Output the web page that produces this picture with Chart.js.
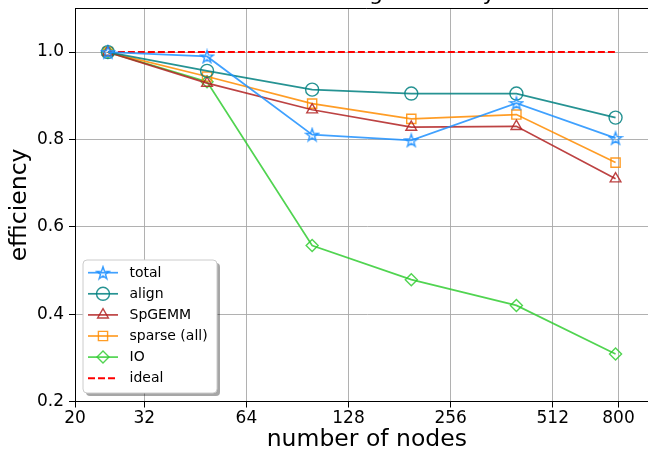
<!DOCTYPE html>
<html>
<head>
<meta charset="utf-8">
<script src="https://cdn.jsdelivr.net/npm/chart.js@4/dist/chart.umd.min.js"></script>
<style>
  html, body { margin: 0; padding: 0; overflow: hidden; background: #fff; }
  #wrap { width: 648px; height: 455px; overflow: hidden; position: relative; }
  canvas { display: block; position: absolute; left: 0; top: 0; }
</style>
</head>
<body>
<div id="wrap">
<canvas id="chart" width="760" height="455" style="width:760px;height:455px"></canvas>
</div>
<script>
// data
const nodes = [25, 49, 100, 196, 400, 784];
const total = [1.0, 0.990, 0.811, 0.798, 0.883, 0.803];
const align = [1.0, 0.957, 0.914, 0.905, 0.905, 0.850];
const spgemm = [1.0, 0.929, 0.868, 0.828, 0.830, 0.710];
const sparse = [1.0, 0.944, 0.882, 0.847, 0.857, 0.747];
const io = [1.0, 0.932, 0.557, 0.479, 0.420, 0.309];
const ideal = [1.0, 1.0, 1.0, 1.0, 1.0, 1.0];

const xTicks = [20, 32, 64, 128, 256, 512, 800];
const yTicks = [0.2, 0.4, 0.6, 0.8, 1.0];

const FONT = "'DejaVu Sans', sans-serif";
Chart.defaults.font.family = FONT;
Chart.defaults.color = "#000";

// hollow 5-point star like matplotlib's '*'
function starMarker(color) {
    const c = document.createElement("canvas");
    c.width = 16; c.height = 16;
    const g = c.getContext("2d");
    g.strokeStyle = color;
    g.lineWidth = 1.4;
    g.beginPath();
    for (let i = 0; i < 10; i++) {
        const r = i % 2 ? 2.6 : 6.6;
        const a = -Math.PI / 2 + i * Math.PI / 5;
        g.lineTo(8 + r * Math.cos(a), 8.6 + r * Math.sin(a));
    }
    g.closePath();
    g.stroke();
    return c;
}

const pts = ys => nodes.map((x, i) => ({ x: x, y: ys[i] }));

function series(label, ys, color, style, radius) {
    return {
        label: label,
        data: pts(ys),
        borderColor: color,
        backgroundColor: "rgba(0,0,0,0)",
        borderWidth: 1.7,
        pointStyle: style,
        pointRadius: radius,
        pointBorderColor: color,
        pointBackgroundColor: "rgba(0,0,0,0)",
        pointBorderWidth: 1.4,
        tension: 0
    };
}

const datasets = [
    series("total", total, "rgba(30,144,255,0.85)", starMarker("rgba(30,144,255,0.9)"), 7),
    series("align", align, "rgba(0,128,128,0.85)", "circle", 6.5),
    series("SpGEMM", spgemm, "rgba(178,34,34,0.85)", "triangle", 6.2),
    series("sparse (all)", sparse, "rgba(255,140,0,0.85)", "rect", 6.5),
    series("IO", io, "rgba(50,205,50,0.85)", "rectRot", 6),
    {
        label: "ideal",
        data: pts(ideal),
        borderColor: "#ff0000",
        borderWidth: 2,
        borderDash: [7, 3],
        pointRadius: 0,
        fill: false
    }
];

// frame top edge + cropped title
const framePlugin = {
    id: "frame",
    afterDraw(chart) {
        const { ctx, chartArea } = chart;
        ctx.save();
        ctx.strokeStyle = "#000";
        ctx.lineWidth = 1;
        ctx.beginPath();
        ctx.moveTo(chartArea.left, Math.round(chartArea.top) + 0.5);
        ctx.lineTo(chartArea.right, Math.round(chartArea.top) + 0.5);
        ctx.stroke();
        ctx.fillStyle = "#000";
        ctx.font = "22px " + FONT;
        ctx.textAlign = "center";
        ctx.textBaseline = "alphabetic";
        ctx.fillText("Weak scaling efficiency", 367, -0.5);
        ctx.restore();
    }
};

// matplotlib-style legend box with line + marker samples
const legendPlugin = {
    id: "mplLegend",
    afterDatasetsDraw(chart) {
        const ctx = chart.ctx;
        const x0 = 83, y0 = 260, w = 134, h = 133;
        ctx.save();
        ctx.fillStyle = "rgba(0,0,0,0.35)";
        roundRect(ctx, x0 + 3, y0 + 3, w, h, 4);
        ctx.fill();
        ctx.fillStyle = "#fff";
        ctx.strokeStyle = "#cccccc";
        ctx.lineWidth = 1;
        roundRect(ctx, x0, y0, w, h, 4);
        ctx.fill();
        ctx.stroke();

        chart.data.datasets.forEach((ds, i) => {
            const y = 272.7 + i * 21.1;
            ctx.save();
            ctx.strokeStyle = ds.borderColor;
            ctx.lineWidth = ds.borderWidth;
            ctx.setLineDash(ds.borderDash || []);
            ctx.beginPath();
            ctx.moveTo(88, y);
            ctx.lineTo(118, y);
            ctx.stroke();
            ctx.restore();
            if (ds.pointRadius > 0) {
                ctx.save();
                ctx.strokeStyle = ds.pointBorderColor;
                ctx.fillStyle = "rgba(0,0,0,0)";
                ctx.lineWidth = ds.pointBorderWidth;
                Chart.helpers.drawPoint(ctx, {
                    pointStyle: ds.pointStyle,
                    radius: ds.pointRadius,
                    rotation: 0,
                    borderWidth: ds.pointBorderWidth
                }, 103, y);
                ctx.restore();
            }
            ctx.fillStyle = "#000";
            ctx.font = "14px " + FONT;
            ctx.textAlign = "left";
            ctx.textBaseline = "middle";
            ctx.fillText(ds.label, 129.5, y + 0.5);
        });
        ctx.restore();
    }
};

function roundRect(ctx, x, y, w, h, r) {
    ctx.beginPath();
    ctx.moveTo(x + r, y);
    ctx.arcTo(x + w, y, x + w, y + h, r);
    ctx.arcTo(x + w, y + h, x, y + h, r);
    ctx.arcTo(x, y + h, x, y, r);
    ctx.arcTo(x, y, x + w, y, r);
    ctx.closePath();
}

const gridStyle = () => ({
    color: "#a8a8a8",
    lineWidth: 0.9,
    borderDash: [1.2, 1.8],
    drawTicks: true,
    tickLength: 6,
    tickColor: "#000",
    tickWidth: 1,
    tickBorderDash: []
});

new Chart(document.getElementById("chart"), {
    type: "line",
    data: { datasets: datasets },
    options: {
        responsive: false,
        animation: false,
        // axes run past the right edge of the picture, like the cropped reference
        layout: { padding: { top: 8, right: 101.4, left: 0, bottom: 0 } },
        plugins: {
            legend: { display: false },
            title: { display: false },
            tooltip: { enabled: false }
        },
        scales: {
            x: {
                type: "logarithmic",
                min: 20,
                max: 1050,
                grid: gridStyle(),
                border: { color: "#000", width: 1 },
                afterBuildTicks: s => { s.ticks = xTicks.map(v => ({ value: v })); },
                afterFit: s => { s.height = 53.5; },
                ticks: {
                    autoSkip: false,
                    maxRotation: 0,
                    padding: 1,
                    font: { size: 17 },
                    callback: v => String(v)
                },
                title: {
                    display: true,
                    text: "number of nodes",
                    font: { size: 23.5 },
                    padding: { top: 0, bottom: 1 }
                }
            },
            y: {
                type: "linear",
                min: 0.2,
                max: 1.1,
                grid: gridStyle(),
                border: { color: "#000", width: 1 },
                afterBuildTicks: s => { s.ticks = yTicks.map(v => ({ value: v })); },
                afterFit: s => { s.width = 75; s.paddingTop = 0; s.paddingBottom = 0; },
                ticks: {
                    padding: 5,
                    font: { size: 17 },
                    callback: v => Number(v).toFixed(1)
                },
                title: {
                    display: true,
                    text: "efficiency",
                    font: { size: 23.5 },
                    padding: { top: 5.5, bottom: 0 }
                }
            }
        }
    },
    plugins: [framePlugin, legendPlugin]
});
</script>
</body>
</html>
